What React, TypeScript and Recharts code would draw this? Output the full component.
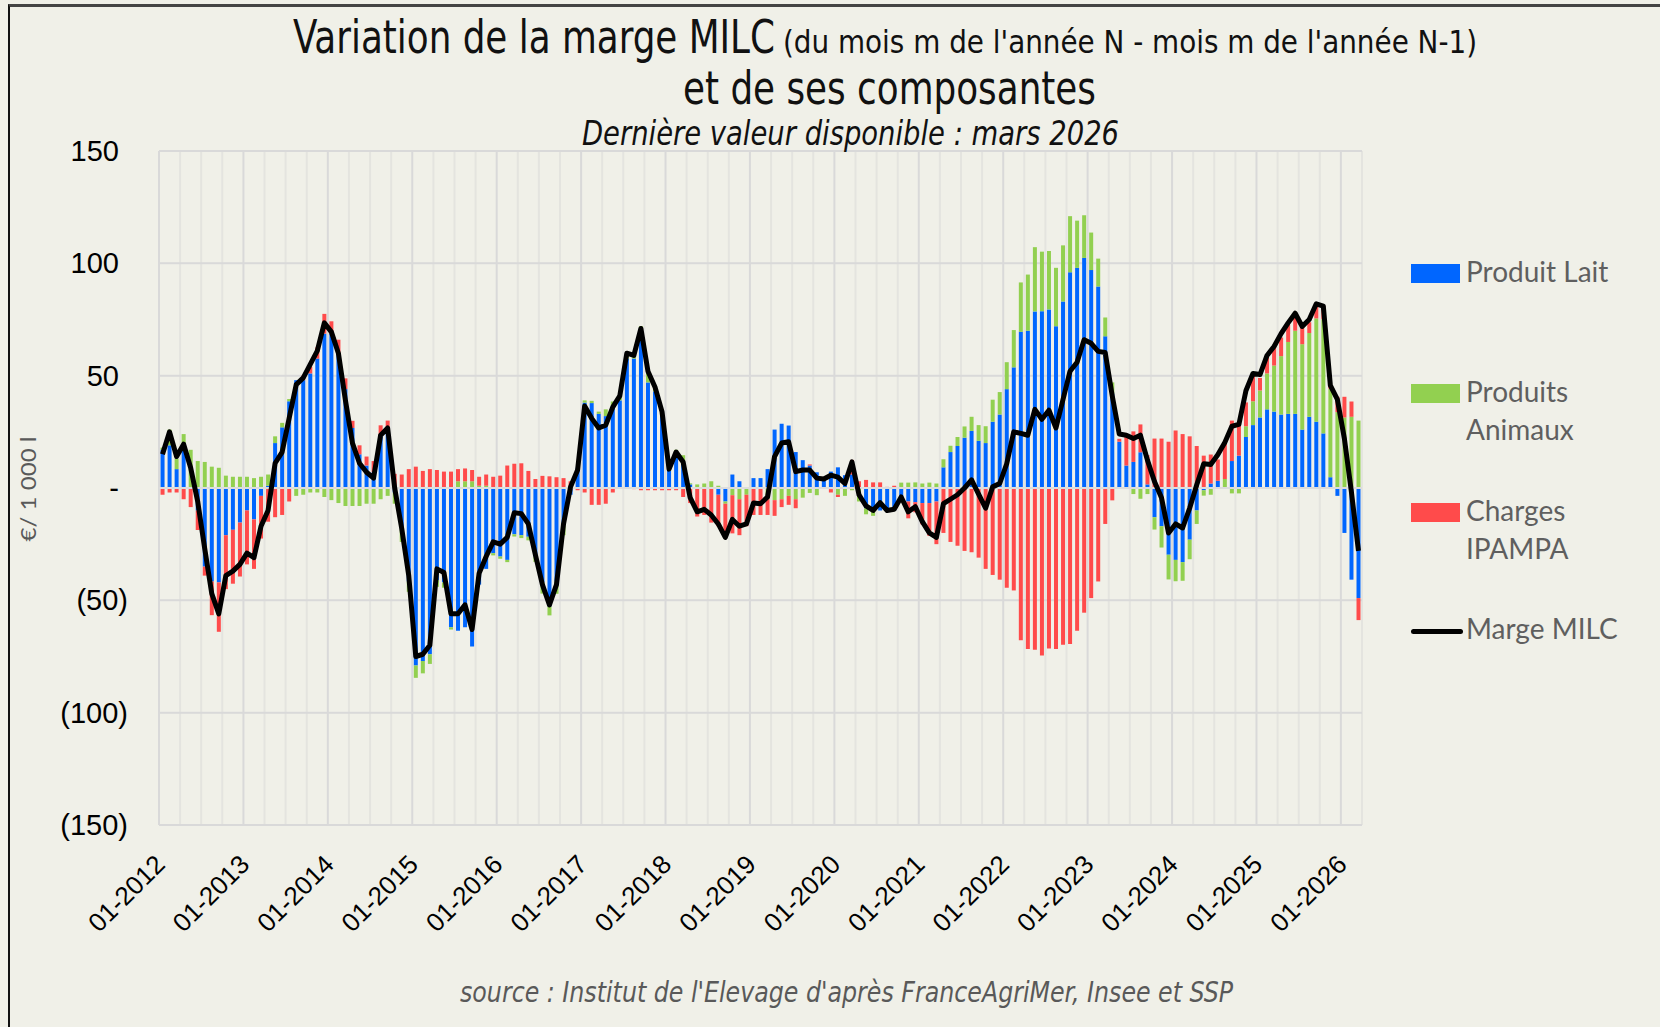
import {
  ComposedChart,
  Bar,
  Line,
  XAxis,
  YAxis,
  CartesianGrid,
  ReferenceLine,
} from "recharts";

const YEARS = [2012, 2013, 2014, 2015, 2016, 2017, 2018, 2019, 2020, 2021, 2022, 2023, 2024, 2025, 2026];
const LAST_MONTH_2026 = 3;

const months: string[] = [];
YEARS.forEach((y) => {
  const last = y === 2026 ? LAST_MONTH_2026 : 12;
  for (let m = 1; m <= last; m++) months.push(`${String(m).padStart(2, "0")}-${y}`);
});
const januaries = YEARS.map((y) => `01-${y}`);

// one line per year
const lait = [
  17, 19, 8.4, 19, 0, -10, -35, -41.6, -42, -21, -18.6, -15.4,
  -10, -14, -3.5, 1, 20, 27, 38.6, 48, 48, 51, 57.6, 68.7,
  68.7, 60, 44, 26.7, 15, 10, 7, 23.5, 26, -2, -18, -41.6,
  -79, -77, -74, -41, -42, -62, -63.5, -62, -70.5, -43, -36, -29,
  -30.5, -32, -20.6, -21, -21.7, -30.5, -42, -52.7, -41.6, -16, -3, 9,
  38, 37.8, 33, 32, 36.5, 39, 57.6, 57.6, 71, 47, 43, 34,
  7.6, 14, 11.6, 1.6, 0, 0, 0, -3, -6, 6, 3, 0,
  4.4, 4.4, 8.4, 26, 28.6, 27.8, 16, 12.4, 10, 7, 4, 7.3,
  9.2, 5.7, 6, 0, -9, -10, -10, -10.5, -10, -5, -6, -6.3,
  -6.7, -6.7, -6, 9.2, 16, 18.7, 22.4, 25.4, 21, 20, 29.5, 32.7,
  44, 53.7, 69.5, 70, 78.6, 78.7, 79.5, 72, 83, 96, 98, 102.4,
  97, 89.7, 67.5, 42, 20.6, 10, 11.6, 15.9, 1.6, -13, -17, -29.7,
  -32, -33, -23, -10, -1, 2, 3.2, 0, 12, 14.4, 22.7, 28,
  31.4, 35, 34, 32.7, 33, 33, 26, 31.7, 29.5, 24.3, 4.8, -3.5,
  -20, -40.8, -49,
];

const animaux = [
  1, 7, 4.6, 5, 17, 12, 11.6, 9.5, 9, 5.5, 5, 5,
  5, 4.4, 5, 5, 3, 2, 1, -3.5, -3, -2, -2, -4,
  -5.4, -6.7, -8, -8, -8, -7, -7, -5, -3.5, -5, -6, -4.6,
  -5.5, -5.5, -4.3, -3, -2.4, -1, 3, 3, 3, 1, 1, -1,
  -1, -1, -1, -1.3, -1.6, -2.4, -5, -4, -5.5, -5, 0, 0,
  1, 1, 1, 3, 2, 2.4, 1.6, 1.6, 1, 5, 1.6, 1,
  1, 3, 3, 0.5, 1.6, 2, 3, 1, -1, -3.2, -5, -3,
  0, 0, -5, -5.4, -5, -3.5, -5, -4.3, -2.2, -3.2, 0.5, -0.5,
  -3, -3.5, -1, -6, -2.7, -2.4, 0, 0, 0, 2.4, 2.4, 2.5,
  2, 2.4, 2, 3.6, 2.8, 4, 5, 6.3, 7, 7.5, 9.8, 10,
  12, 16.6, 22, 25, 28.6, 26.5, 26, 26, 25, 25, 21, 19,
  16.7, 12.4, 8.4, 5, 0, 0, -2.7, -4.8, -2.7, -5.5, -9.5, -11,
  -9.5, -8.3, -8.7, -6, -2.4, -3, 0, 4, -2.4, -2.4, 4.8, 10.6,
  12, 16, 20.5, 26, 32, 37, 38, 37.3, 46, 50.8, 39.4, 33.8,
  31.4, 31.7, 30,
];

const charges = [
  -3, -2, -2, -5, -8.5, -8.7, -4, -15, -22, -24, -24, -24,
  -24, -22, -19, -15, -13, -12, -6, 0, 2, 3, 5, 8.8,
  5.5, 6, 4.8, 3.2, 4, 4, 5, 4.4, 4, 6.3, 6, 8.4,
  9.5, 7.6, 8.4, 8, 7.3, 7.3, 5.4, 5.7, 5, 4, 5, 5,
  5.5, 10, 10.8, 11, 7.6, 4, 5.4, 5.2, 4.8, 4.4, 3, -1,
  -2, -7.5, -7.5, -7, -2, 0, 0, -0.5, -1, -1, -1, -1,
  -1, -1, -4, -6.7, -12.7, -12, -15.4, -14, -14.5, -17, -16, -14,
  -12, -12, -7, -7, -3.5, -4, -4, 0, 0.5, 0, 0, -1.5,
  -1, 0, 6.5, 3, 3.6, 2.5, 2.5, 0.5, 1, 0, -7.5, -4.5,
  -9.5, -14.6, -19, -20, -24, -25.7, -28, -28.6, -31, -36, -38.7, -40.8,
  -44.4, -45.6, -67.8, -71.7, -72, -74.6, -71.4, -71.7, -69.8, -69.4, -63.5, -55.5,
  -49, -41.6, -16, -5.5, 1.3, 14, 13.6, 12.4, 13, 22, 22, 20.6,
  25.6, 24, 23, 18.7, 14.4, 12.9, 9.5, 16.5, 18, 14.6, 10.6, 11.6,
  5.6, 8.4, 8, 8.3, 7.6, 7, 7.5, 4.8, 6, 5.9, 1.5, 6.8,
  9.2, 6.8, -9.8,
];

const marge = [
  15, 25, 14, 19.5, 9, -6, -27, -47, -56, -39, -37, -34,
  -29, -31, -17, -10, 11, 16, 31, 46, 49, 55, 61, 73.5,
  69.5, 60, 39, 20, 11, 7, 4.4, 23.5, 26.7, 0, -18, -39,
  -75, -74, -70, -36, -37.6, -56, -56, -52, -63, -38, -30.5, -24,
  -25, -22, -11, -11.4, -16, -29.7, -43, -52, -43, -16, 0.5, 8,
  36.5, 31, 26.7, 28, 36, 41, 60, 59, 71, 52, 45, 34,
  8.4, 16, 11.6, -4.3, -10.6, -9.5, -12, -16, -22, -14, -17, -16,
  -6.7, -7, -4, 14, 20, 20.6, 7.3, 8, 8, 4.4, 4, 5.7,
  4.8, 2, 11.6, -3, -8, -10, -6.5, -10, -9.5, -4, -10.6, -8.3,
  -15, -20, -22, -7, -5, -3, 0, 3.6, -2.7, -9, 0.5, 2,
  10.8, 25, 24.3, 23.5, 35, 30.6, 34.6, 26.7, 39.4, 52, 56, 66,
  64.4, 60.8, 60.3, 41, 24, 23.5, 22, 23.5, 12.4, 2.9, -4.3, -20,
  -16, -17.8, -9, 1.3, 10.8, 10.5, 14.8, 20.3, 27.5, 28.3, 43.3, 51,
  50.5, 59, 63, 68.7, 73.5, 77.8, 71.9, 75, 82, 81, 45.7, 39.4,
  21.9, -1.9, -28,
];

const yTicks = [-150, -100, -50, 0, 50, 100, 150];

const data = months.map((month, i) => ({
  month,
  lait: lait[i],
  animaux: animaux[i],
  charges: charges[i],
  marge: marge[i],
}));

const BG = "#f0f0e8";
const BLUE = "#0066ff";
const GREEN = "#92d050";
const RED = "#ff4b4b";
const CONDENSED = "'Liberation Sans Narrow', 'DejaVu Sans Condensed', 'Open Sans', sans-serif";
const ARIAL = "'Liberation Sans', Arial, sans-serif";
const ROUND = "Lato, 'Open Sans', sans-serif";

const N = months.length;

const minorX = (props: any) => {
  const { offset } = props;
  const step = offset.width / N;
  const out: number[] = [];
  for (let q = 0; q <= N; q += 3) if (q % 12 !== 0) out.push(offset.left + q * step);
  out.push(offset.left + offset.width);
  return out;
};

const majorX = (props: any) => {
  const { offset } = props;
  const step = offset.width / N;
  return YEARS.map((_, k) => offset.left + k * 12 * step);
};

const fmtY = (v: number) => (v === 0 ? "-" : v < 0 ? `(${-v})` : `${v}`);

const YTick = ({ x, y, payload }: any) => {
  const v = payload.value as number;
  return (
    <text
      x={v < 0 ? x - 31 : x - 40}
      y={y}
      dy="0.35em"
      textAnchor="end"
      fontFamily={ARIAL}
      fontSize={29}
      fill="#000"
    >
      {fmtY(v)}
    </text>
  );
};

const XTick = ({ x, y, payload }: any) => {
  const ax = x + 4;
  const ay = y + 41;
  return (
    <text
      x={ax}
      y={ay}
      textAnchor="end"
      transform={`rotate(-45 ${ax} ${ay})`}
      fontFamily={ARIAL}
      fontSize={26}
      fill="#000"
    >
      {payload.value}
    </text>
  );
};

const legendItems = [
  { label: ["Produit Lait"], color: BLUE, top: 264, kind: "bar" },
  { label: ["Produits", "Animaux"], color: GREEN, top: 384, kind: "bar" },
  { label: ["Charges", "IPAMPA"], color: RED, top: 503, kind: "bar" },
  { label: ["Marge MILC"], color: "#000", top: 621, kind: "line" },
];

const Legend = () => (
  <div>
    {legendItems.map((it) => (
      <div key={it.label[0]} style={{ position: "absolute", left: 1411, top: it.top }}>
        {it.kind === "bar" ? (
          <div style={{ position: "absolute", left: 0, top: 0, width: 49, height: 19, background: it.color }} />
        ) : (
          <div
            style={{
              position: "absolute",
              left: 0,
              top: 8,
              width: 52,
              height: 5,
              borderRadius: 3,
              background: it.color,
            }}
          />
        )}
        <div
          style={{
            position: "absolute",
            left: 55,
            top: -12,
            fontFamily: ROUND,
            fontSize: 28,
            lineHeight: "38px",
            color: "#5f5f5f",
            whiteSpace: "nowrap",
          }}
        >
          {it.label.map((l) => (
            <div key={l}>{l}</div>
          ))}
        </div>
      </div>
    ))}
  </div>
);

export default function App() {
  return (
    <div
      style={{
        position: "absolute",
        left: 0,
        top: 0,
        width: 1660,
        height: 1027,
        background: BG,
        overflow: "hidden",
      }}
    >
      <div
        style={{
          position: "absolute",
          left: 8,
          top: 4,
          right: -4,
          bottom: -4,
          borderLeft: "2px solid #111",
          borderTop: "3px solid #444",
        }}
      />
      <div style={{ position: "absolute", left: 0, top: 0 }}>
        <ComposedChart
          width={1660}
          height={1027}
          data={data}
          stackOffset="sign"
          barCategoryGap="22%"
          margin={{ top: 151, right: 298, bottom: 142, left: 59 }}
        >
          <CartesianGrid
            horizontal={false}
            stroke="#e4e4df"
            strokeWidth={2}
            verticalCoordinatesGenerator={minorX}
          />
          <CartesianGrid
            stroke="#d9d9d9"
            strokeWidth={2}
            verticalCoordinatesGenerator={majorX}
          />
          <XAxis
            dataKey="month"
            ticks={januaries}
            interval={0}
            tick={<XTick />}
            axisLine={false}
            tickLine={false}
            tickSize={0}
            tickMargin={0}
            height={60}
          />
          <YAxis
            type="number"
            domain={[-150, 150]}
            ticks={yTicks}
            tick={<YTick />}
            axisLine={false}
            tickLine={false}
            tickSize={0}
            tickMargin={0}
            width={100}
          />
          <Bar dataKey="lait" name="Produit Lait" stackId="s" fill={BLUE} isAnimationActive={false} />
          <Bar dataKey="animaux" name="Produits Animaux" stackId="s" fill={GREEN} isAnimationActive={false} />
          <Bar dataKey="charges" name="Charges IPAMPA" stackId="s" fill={RED} isAnimationActive={false} />
          <ReferenceLine y={0} stroke="#dcdcdc" strokeWidth={2} />
          <Line
            type="linear"
            dataKey="marge"
            name="Marge MILC"
            stroke="#000"
            strokeWidth={5}
            strokeLinejoin="round"
            dot={false}
            activeDot={false}
            isAnimationActive={false}
          />
        </ComposedChart>
      </div>

      <svg
        width={1660}
        height={1027}
        style={{ position: "absolute", left: 0, top: 0, pointerEvents: "none" }}
      >
        <text x={293} y={53} fontFamily={CONDENSED} fontSize={46} fill="#111" textLength={482} lengthAdjust="spacingAndGlyphs">
          Variation de la marge MILC
        </text>
        <text x={783} y={53} fontFamily={CONDENSED} fontSize={32} fill="#111" textLength={694} lengthAdjust="spacingAndGlyphs">
          (du mois m de l'année N - mois m de l'année N-1)
        </text>
        <text x={683} y={104} fontFamily={CONDENSED} fontSize={46} fill="#111" textLength={413} lengthAdjust="spacingAndGlyphs">
          et de ses composantes
        </text>
        <text x={582} y={145} fontFamily={CONDENSED} fontStyle="italic" fontSize={33} fill="#111" textLength={537} lengthAdjust="spacingAndGlyphs">
          Dernière valeur disponible : mars 2026
        </text>
        <text x={460} y={1002} fontFamily={CONDENSED} fontStyle="italic" fontSize={29} fill="#595959" textLength={773} lengthAdjust="spacingAndGlyphs">
          source : Institut de l'Elevage d'après FranceAgriMer, Insee et SSP
        </text>
        <text
          x={36}
          y={489}
          textAnchor="middle"
          transform="rotate(-90 36 489)"
          fontFamily={ROUND}
          fontSize={22}
          fill="#595959"
          textLength={105}
          lengthAdjust="spacingAndGlyphs"
        >
          €/ 1 000 l
        </text>
      </svg>

      <Legend />
    </div>
  );
}
